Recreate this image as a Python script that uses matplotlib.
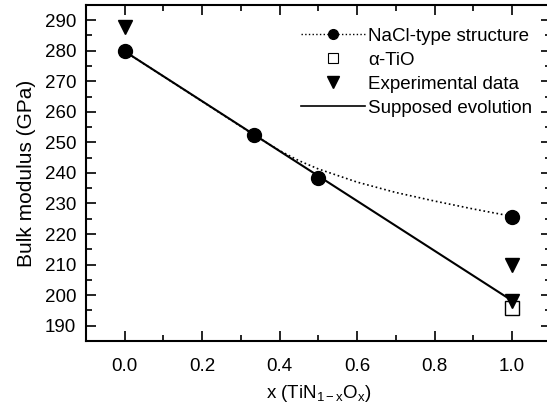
import numpy as np
import matplotlib
matplotlib.use('Agg')
import matplotlib.pyplot as plt
from matplotlib.lines import Line2D

plt.rcParams['font.family'] = ['Liberation Sans', 'DejaVu Sans']
plt.rcParams['mathtext.fontset'] = 'custom'
plt.rcParams['mathtext.rm'] = 'Liberation Sans'
plt.rcParams['mathtext.it'] = 'Liberation Sans'

# NaCl-type structure (calculated points)
nacl_x = [0.0, 0.333, 0.5, 1.0]
nacl_y = [279.8, 252.5, 238.3, 225.6]

# dotted guide curve through the NaCl-type values
curve_x = [0.0, 0.333, 0.40, 0.45, 0.50, 0.60, 0.70, 0.80, 0.90, 1.00]
curve_y = [279.8, 252.5, 247.3, 244.0, 241.3, 237.0, 233.6, 230.8, 228.2, 225.8]

# alpha-TiO
tio_x = [1.0]
tio_y = [195.8]

# experimental data
exp_x = [0.0, 1.0, 1.0]
exp_y = [287.8, 209.8, 198.2]

# supposed evolution
evo_x = [0.0, 1.0]
evo_y = [279.8, 198.2]

fig = plt.figure(figsize=(5.47, 4.05), dpi=100)
ax = fig.add_axes([0.157, 0.158, 0.850, 0.830])

ax.plot(curve_x, curve_y, ':', color='black', lw=1.2)
ax.plot(evo_x, evo_y, '-', color='black', lw=1.5)
ax.plot(tio_x, tio_y, 's', ms=10, mfc='white', mec='black', mew=1.0)
ax.plot(nacl_x, nacl_y, 'o', ms=10, color='black')
ax.plot(exp_x, exp_y, 'v', ms=10, color='black')

ax.set_xlim(-0.1, 1.1)
ax.set_ylim(185, 295)
ax.set_xticks(np.arange(0, 1.01, 0.2))
ax.set_xticks(np.arange(-0.1, 1.11, 0.1), minor=True)
ax.set_yticks(np.arange(190, 291, 10))
ax.set_yticks(np.arange(185, 296, 5), minor=True)
ax.xaxis.set_major_formatter(matplotlib.ticker.FormatStrFormatter('%.1f'))

ax.tick_params(which='both', direction='in', top=True, right=True, width=1.2)
ax.tick_params(which='major', length=7, labelsize=13.5)
ax.tick_params(axis='x', which='major', pad=12)
ax.tick_params(axis='y', which='major', pad=7)
ax.tick_params(which='minor', length=4)
for s in ax.spines.values():
    s.set_linewidth(1.5)

ax.set_xlabel(r'x (TiN$_{\mathrm{1-x}}$O$_{\mathrm{x}}$)', fontsize=13.5, labelpad=6)
ax.set_ylabel('Bulk modulus (GPa)', fontsize=15, labelpad=6)

handles = [
    Line2D([], [], ls=':', color='black', lw=1.0, marker='o', ms=7),
    Line2D([], [], ls='none', marker='s', ms=7, mfc='white', mec='black', mew=0.8),
    Line2D([], [], ls='none', marker='v', ms=8, color='black'),
    Line2D([], [], ls='-', color='black', lw=1.2),
]
labels = ['NaCl-type structure', 'α-TiO', 'Experimental data', 'Supposed evolution']
ax.legend(handles, labels, loc='upper right', bbox_to_anchor=(0.985, 0.965),
          frameon=False, fontsize=13.5, handlelength=3.4, handletextpad=0.2,
          labelspacing=0.36, borderaxespad=0.2)

fig.savefig('out.png', dpi=100)
